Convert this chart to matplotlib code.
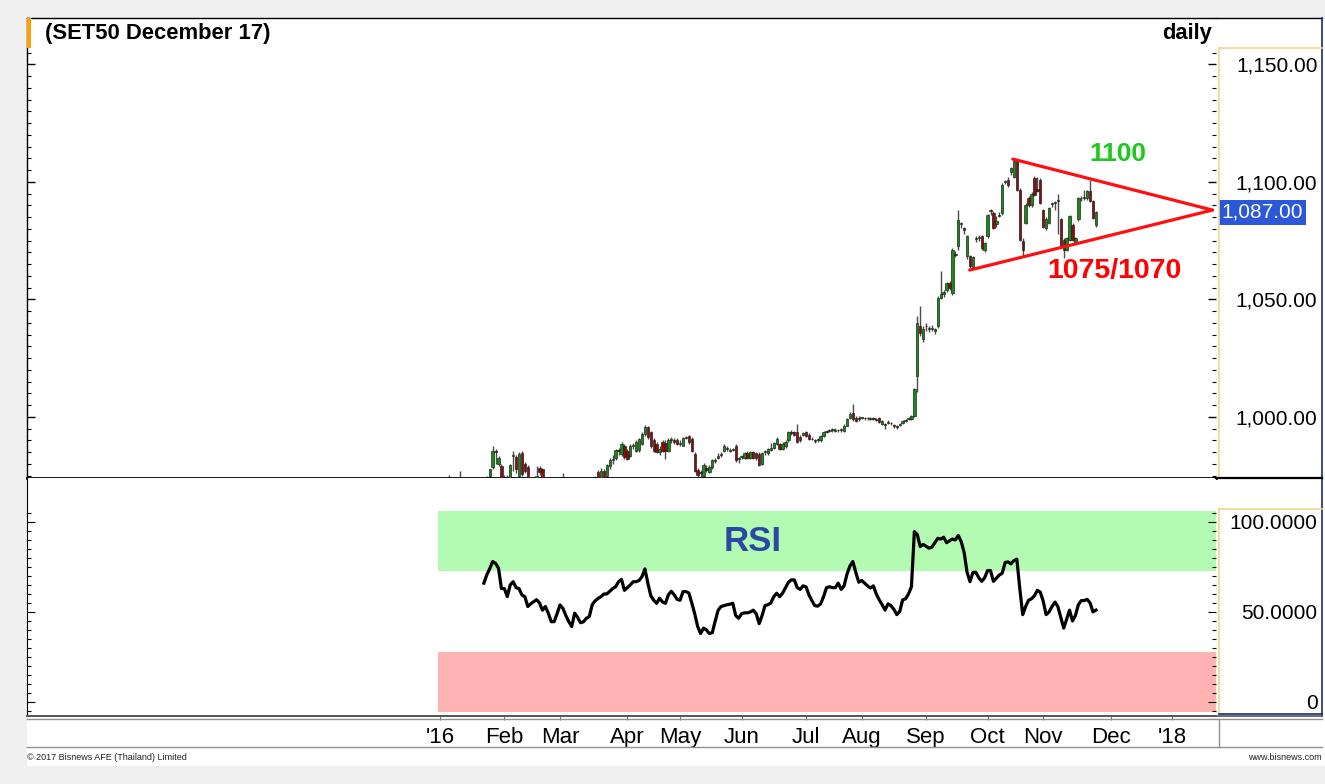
import matplotlib
matplotlib.use('Agg')
import matplotlib.pyplot as plt
import numpy as np
from matplotlib.ticker import MultipleLocator, FixedLocator, FuncFormatter
from matplotlib.lines import Line2D
from matplotlib.patches import Rectangle

plt.rcParams['font.family'] = ['Liberation Sans', 'DejaVu Sans']

# daily candles (trading-day index 0 = first session of the year)
opens = [
    968, 966, 969, 971, 972, 968, 970, 972, 973, 967,
    964, 966, 968, 965, 967, 970, 972, 974.7, 978.7, 985.5,
    980.1, 979.1, 972, 973, 972, 983.4, 982.9, 975.1, 984.7, 980.1,
    978.7, 972, 970, 971, 978.3, 978, 972, 968, 965, 962,
    964, 968, 970, 969, 964, 960, 958, 965, 962, 959,
    958, 961, 964, 970, 976.6, 973, 977, 975, 979, 981.8,
    982.5, 986, 984.3, 987.8, 985.7, 983.6, 987.8, 985.7, 986, 988.6,
    992.8, 995.6, 993.5, 990, 988.6, 985, 989.3, 989, 985.7, 990,
    990, 990, 988.5, 987.8, 991, 991.8, 990.7, 984.3, 977.5, 976.5,
    974.7, 978.5, 976.6, 978.7, 981.5, 982.5, 983.8, 985.7, 986.4, 986,
    986, 987.8, 982, 983, 982.5, 984.5, 982.5, 985, 984.5, 984.3,
    980, 985, 984.5, 986, 987, 988.6, 988.6, 986.4, 987.5, 990,
    993.5, 993.5, 993.5, 991.5, 992.5, 993.5, 992.5, 990.5, 990, 990,
    990, 992, 993.5, 994, 994.5, 994, 994.5, 994.5, 994.2, 996.3,
    999.7, 1001.5, 999.7, 999, 999.6, 999.5, 999.4, 999.3, 999.4, 999.2,
    999.4, 997, 997, 997.5, 997.5, 996.6, 996, 996.5, 997.5, 998.3,
    999, 999, 1000.5, 1017.5, 1038.7, 1033, 1038.5, 1037.6, 1037.5, 1036.5,
    1038.7, 1050.7, 1052.5, 1054, 1057, 1052.8, 1069.5, 1072.6, 1082, 1080.5,
    1068.3, 1068.3, 1064, 1075.5, 1076, 1076.8, 1071, 1076.8, 1087.5, 1086.9,
    1082, 1085.5, 1086.9, 1100, 1101, 1104, 1102, 1109, 1096.6, 1075,
    1082.6, 1093, 1090, 1101.6, 1097, 1100.8, 1088, 1080.5, 1082.6, 1090.5,
    1091, 1091.8, 1084, 1075.4, 1071, 1075.4, 1081.8, 1074, 1084, 1093,
    1093, 1093, 1096, 1091.8, 1081.8,
]
highs = [
    971, 970, 973, 975.5, 974, 972, 974, 977, 974, 970,
    968, 970, 971, 969, 972, 974, 975, 978, 987.8, 986.5,
    983.5, 980, 975.5, 975.5, 980, 985.5, 984, 985, 985.5, 981,
    979.5, 974, 973, 979, 979, 978.5, 973, 971, 968, 966,
    970, 973, 976.3, 971, 966, 963, 966, 967, 964, 962,
    963, 966, 972, 975, 977.5, 978.5, 978, 980, 982.5, 984,
    986.5, 987, 989.3, 988.5, 986.5, 988.5, 989, 990, 991, 993.5,
    996.8, 996, 994, 991, 989.5, 987.5, 990, 990, 991, 991.5,
    991, 991, 990, 991.5, 992, 992.5, 991.5, 985, 978.5, 977.5,
    980.5, 979.5, 979.5, 982, 982.5, 984.5, 985, 988.5, 987.5, 987,
    987, 988.3, 983, 984, 985, 985.5, 985.5, 985.5, 985, 985,
    985, 986, 987, 989, 989.5, 991.5, 989, 989.5, 990, 994,
    994.5, 994, 997, 992.5, 993.5, 994, 993, 991.5, 990.5, 991,
    992.5, 994, 994.5, 995, 995.5, 995.5, 995, 995.2, 997, 999.5,
    1002, 1005.5, 1000.5, 1000.3, 1000.2, 1000, 999.9, 999.8, 999.9, 999.6,
    999.8, 998.8, 997.5, 998.6, 998, 997, 996.5, 997.5, 998.8, 999,
    999.8, 1001, 1012.5, 1043, 1047, 1038.5, 1040, 1038.5, 1039, 1038,
    1051.5, 1062, 1054, 1057.5, 1058, 1072, 1070.5, 1088, 1083, 1081,
    1077.5, 1069, 1068.5, 1077, 1077.5, 1077.5, 1074.5, 1086.5, 1088.5, 1087.5,
    1085.5, 1087, 1099.5, 1101, 1102, 1106.5, 1109.7, 1109.5, 1097.5, 1076,
    1091, 1094, 1095.5, 1102.5, 1102, 1101.5, 1088.5, 1085, 1089.5, 1091.5,
    1092, 1095, 1084.5, 1076, 1076.5, 1086, 1082.5, 1076.5, 1093.5, 1094,
    1096.6, 1096.5, 1100.8, 1092.5, 1087.5,
]
lows = [
    964, 962, 966, 968, 967, 965, 967, 969, 966, 962,
    961, 963, 964, 962, 965, 968, 969, 972, 978, 980,
    979, 970, 969, 970, 971, 977, 976, 974, 975, 976,
    970, 968, 967, 970, 975.5, 970, 966, 963, 960, 959,
    962, 966, 968, 962, 958, 956, 957, 960, 957, 955,
    957, 960, 963, 968, 970, 971, 972, 974, 978, 980,
    981.5, 984, 983.5, 982, 981.5, 983, 986.5, 985, 985, 988,
    992, 990.5, 987, 985, 984.5, 984, 985, 982.2, 985, 989,
    988.5, 988, 987.5, 987.5, 990.5, 988.5, 985, 976.5, 974, 974.5,
    973, 976.5, 976, 978, 980.5, 982, 983, 985, 985.5, 985,
    985.5, 981, 980.5, 982, 982, 982, 982, 982, 981.5, 979,
    979.5, 984, 984, 985.5, 986.5, 988, 986, 986, 987, 989.5,
    992.5, 992, 989, 989.5, 992, 991.5, 990, 990, 988.8, 989.5,
    989.5, 991.5, 993, 993.5, 993.5, 993.5, 993.5, 993.8, 993.8, 996,
    999.2, 998.5, 998, 998.5, 999, 998.8, 998.7, 998.8, 998.9, 998.2,
    997.6, 996.5, 995, 997, 996.8, 995.5, 995, 996, 997.2, 997.8,
    998.6, 998.6, 1000, 1010.6, 1034.5, 1032, 1036.5, 1036, 1036.5, 1035.5,
    1038, 1050, 1051, 1053, 1054, 1052, 1068, 1071, 1080.5, 1078,
    1067, 1063.5, 1063, 1074.5, 1075, 1071, 1070, 1076, 1086, 1080,
    1081, 1085, 1086, 1099, 1098, 1103, 1101.5, 1096, 1075, 1068.6,
    1082, 1089.5, 1089.5, 1094, 1095.5, 1090.5, 1080.5, 1079.5, 1082, 1089.5,
    1088, 1078, 1072, 1067.8, 1070.5, 1075, 1075, 1073.5, 1083.5, 1092,
    1092.5, 1092.5, 1091.5, 1084, 1081,
]
closes = [
    966, 969, 971, 972, 968, 970, 972, 973, 967, 964,
    966, 968, 965, 967, 970, 972, 974, 977.7, 985.7, 985.2,
    982.6, 972, 973, 972, 979.4, 983.6, 977.7, 984.3, 975.9, 977.2,
    972, 970, 971, 975, 976.8, 972, 968, 965, 962, 964,
    968, 970, 969, 964, 960, 958, 965, 962, 959, 958,
    961, 964, 970, 973, 973, 977, 974, 979.4, 981.8, 982.2,
    986, 985.5, 988.6, 982.9, 982.2, 987.8, 988.2, 989.3, 990.5, 992.8,
    995.9, 991.4, 987.8, 985.7, 985.2, 986.5, 985.7, 985.7, 990, 990.5,
    989.5, 988.5, 988.8, 991, 991.4, 989.3, 985.7, 977.2, 975.5, 976,
    979.7, 977.5, 978.7, 981.5, 981.2, 983.6, 984.3, 987.8, 986.6, 985.7,
    986.4, 981.5, 982.2, 983.2, 984.5, 982.5, 985, 982.5, 982.5, 979.4,
    984.5, 985.4, 986.4, 987, 989, 990.7, 986.4, 988.6, 989.5, 993.5,
    993.3, 992.5, 989.5, 990, 993, 992, 990.5, 990.7, 989.6, 990.5,
    992, 993.5, 994, 994.2, 994.6, 994.5, 994.3, 994.8, 996.3, 999,
    1001.4, 999, 998.4, 999.6, 999.6, 999.4, 999.4, 999.5, 999.2, 998.6,
    998, 998.4, 996.5, 998, 997.3, 996.3, 995.6, 997, 998.4, 998.4,
    999.4, 1000.5, 1012, 1040, 1035.9, 1037.3, 1038.7, 1037.6, 1038, 1037.5,
    1050.7, 1052.5, 1053, 1057, 1055, 1071.2, 1069, 1083.9, 1082.3, 1079.5,
    1077, 1064.1, 1068, 1076, 1076.3, 1071.9, 1074, 1086, 1088, 1080.5,
    1083.5, 1086, 1098.7, 1100.2, 1098.7, 1106, 1109, 1096.6, 1075.4, 1071,
    1090.2, 1090, 1095, 1094.5, 1096, 1091, 1081, 1084, 1089, 1091,
    1091.3, 1092, 1072.6, 1071.2, 1076, 1085.3, 1075.4, 1076, 1093, 1093.2,
    1093.4, 1096, 1091.8, 1084.6, 1087,
]

# RSI, first value on day 15
rsi_start = 15
rsi = [
    66, 70.6, 74, 78, 77, 74.3, 63, 63, 58.5, 65,
    66.8, 63.5, 63, 59.4, 58.5, 53, 54.5, 55.7, 56.8, 55,
    51, 53, 49.3, 44.6, 44.6, 49, 53.9, 52, 48, 44.6,
    41.9, 49.3, 47, 44, 44.5, 46.5, 47.4, 54, 56.2, 57.5,
    58.5, 60, 60, 61.5, 63, 64, 66.8, 68.1, 62, 63.5,
    65, 66.8, 66.8, 67.5, 69.6, 73.9, 66, 59, 56.5, 54.8,
    57.6, 55.5, 54.8, 59.5, 61.5, 59.5, 57, 56.5, 61.3, 61.3,
    60.5, 55, 49, 42, 38, 41, 40, 38, 38.5, 45,
    51, 53, 53.5, 54, 54.3, 54.8, 48, 46.5, 49, 49.5,
    49.5, 50, 51, 49, 43.5, 48, 53.5, 54, 55, 58.5,
    60.4, 58.5, 60.4, 63.5, 66.5, 67.8, 67.8, 63.5, 62.5, 64.5,
    64, 59.5, 56.3, 53.5, 53.2, 54.5, 58.5, 63.5, 64, 63.5,
    63.5, 66, 62.5, 64.5, 71, 75.5, 78, 72, 66.5, 67.5,
    66, 64.5, 63.3, 64.5, 60, 56.7, 54, 51, 54.5, 53.5,
    51.5, 48.5, 50.2, 56.7, 57.3, 60, 64, 94.6, 93, 86.3,
    87.5, 86.5, 85.4, 86, 88.5, 90.9, 90.5, 91.5, 88.5, 89.5,
    90.5, 90, 92.5, 89, 83, 72, 66.8, 72, 72, 69,
    67, 69, 73, 73, 67, 68.7, 70.5, 71.5, 77.5, 77.8,
    76.7, 78.5, 79.3, 63, 48.5, 53, 56.5, 57.3, 59, 62,
    61, 56, 48.5, 50, 53, 55.5, 53, 47, 41, 46,
    51, 45, 48, 54, 56.3, 56.3, 57, 55, 50, 51,
]

month_pos = [0, 22, 41, 64, 82, 103, 125, 144, 166, 187, 206, 229, 250]
month_labels = ["'16", 'Feb', 'Mar', 'Apr', 'May', 'Jun', 'Jul', 'Aug',
                'Sep', 'Oct', 'Nov', 'Dec', "'18"]

# triangle drawn on the chart (day, price)
tri_top = (195.6, 1109.7)
tri_low = (180.9, 1062.5)
tri_apex = (263.8, 1088.0)

# RSI zones
zone_x = (-0.7, 265)
zone_hi = (72.8, 106.1)
zone_lo = (-5.6, 27.8)

assert len(opens) == len(highs) == len(lows) == len(closes)

opens, highs, lows, closes = map(np.array, (opens, highs, lows, closes))
days = np.arange(len(closes))
rsi_days = np.arange(rsi_start, rsi_start + len(rsi))

W, H = 1325, 784


def fx(px):
    return px / W


def fy(py):
    return 1 - py / H


fig = plt.figure(figsize=(13.25, 7.84), dpi=100, facecolor='#f0f0f0')
fig.add_artist(Rectangle((fx(27), fy(766)), fx(1325) - fx(27), fy(18) - fy(766),
                         transform=fig.transFigure, facecolor='white',
                         edgecolor='none', zorder=-5))

ax = fig.add_axes([fx(27), fy(478), fx(1216) - fx(27), fy(18) - fy(478)])
ax2 = fig.add_axes([fx(27), fy(716), fx(1216) - fx(27), fy(478) - fy(716)], sharex=ax)

# candles
up = closes >= opens
ax.vlines(days, lows, highs, color='#4a4a4a', linewidth=1.0, zorder=2)
ax.bar(days, np.maximum(np.abs(closes - opens), 0.35), bottom=np.minimum(opens, closes),
       width=0.8, color=np.where(up, '#168c16', '#8c0c0c'),
       edgecolor='#1a1a1a', linewidth=0.45, zorder=3)

# triangle
for p in (tri_top, tri_low):
    ax.plot([p[0], tri_apex[0]], [p[1], tri_apex[1]], color='#ff1010', lw=2.3,
            solid_capstyle='round', zorder=4, clip_on=False)
ax.text(231.5, 1112, '1100', color='#1ec81e', fontsize=19, fontweight='bold',
        ha='center', va='center')
ax.text(230.4, 1062, '1075/1070', color='#ff0000', fontsize=20.5, fontweight='bold',
        ha='center', va='center')

ax.set_xlim(-141, 265)
ax.set_ylim(974.05, 1169.7)
ax.yaxis.set_major_locator(FixedLocator([1000, 1050, 1100, 1150]))
ax.yaxis.set_minor_locator(FixedLocator(np.arange(975, 1156, 5)))
ax.yaxis.set_major_formatter(FuncFormatter(lambda v, p: f'{v:,.2f}'))
ax.tick_params(axis='y', which='both', direction='in', left=True, right=True,
               labelleft=False, labelright=True, labelsize=15, pad=73, colors='black')
ax.tick_params(axis='y', which='major', length=6, width=1)
ax.tick_params(axis='y', which='minor', length=3, width=0.8)
ax.tick_params(axis='x', bottom=False, labelbottom=False)
plt.setp(ax.get_yticklabels(), ha='right')
ax.spines['right'].set_visible(False)
ax.spines['bottom'].set_linewidth(2)
for s in ('top', 'left'):
    ax.spines[s].set_linewidth(1)

# last price tag
ax.text(1.0046, closes[-1], f'{closes[-1]:,.2f}', transform=ax.get_yaxis_transform(),
        color='white', fontsize=15, ha='left', va='center', clip_on=False,
        bbox=dict(boxstyle='square,pad=0.14', fc='#2b57d9', ec='none'))

# RSI panel
ax2.fill_between(zone_x, zone_hi[0], zone_hi[1], color='#b3fbb3', lw=0, zorder=1)
ax2.fill_between(zone_x, zone_lo[0], zone_lo[1], color='#ffb3b3', lw=0, zorder=1)
ax2.plot(rsi_days, rsi, color='black', lw=2.3, zorder=3)
ax2.text(106.8, 89, 'RSI', color='#2b48a3', fontsize=25, fontweight='bold',
         ha='center', va='center', zorder=4)
ax2.set_ylim(-7.8, 124.4)
ax2.yaxis.set_major_locator(FixedLocator([0, 50, 100]))
ax2.yaxis.set_minor_locator(FixedLocator(np.arange(-5, 106, 5)))
ax2.yaxis.set_major_formatter(FuncFormatter(lambda v, p: '0' if v == 0 else f'{v:.4f}'))
ax2.tick_params(axis='y', which='both', direction='in', left=True, right=True,
                labelleft=False, labelright=True, labelsize=15, pad=73)
ax2.tick_params(axis='y', which='major', length=6)
ax2.tick_params(axis='y', which='minor', length=3, width=0.8)
plt.setp(ax2.get_yticklabels(), ha='right')
ax2.set_xticks(month_pos)
ax2.set_xticklabels(month_labels)
ax2.tick_params(axis='x', direction='out', length=3, color='#707070', labelsize=16, pad=5)
ax2.spines['right'].set_visible(False)
ax2.spines['top'].set_visible(False)
ax2.spines['bottom'].set_color('#555555')
ax2.spines['bottom'].set_linewidth(1.2)


def fline(x0, y0, x1, y1, color, lw=1.0):
    fig.add_artist(Line2D([fx(x0), fx(x1)], [fy(y0), fy(y1)], color=color, lw=lw,
                          transform=fig.transFigure))


# frame and label boxes
fline(1216, 18, 1322, 18, 'black')
fline(1322, 18, 1322, 716, '#1a2a7a', 1.2)
fline(1219, 48, 1322, 48, '#f0d890', 1.2)
fline(1219, 48, 1219, 478, '#f0d890', 1.2)
fline(1216, 478, 1322, 478, 'black', 1.6)
fline(1219, 509, 1322, 509, '#f0d890', 1.2)
fline(1219, 509, 1219, 714, '#f0d890', 1.2)
fline(1219, 714, 1322, 714, '#1a2a7a', 1.2)
fline(27, 716, 1322, 716, '#555555', 1.2)
fline(27, 719, 1322, 719, '#909090', 1.0)
fline(27, 747, 1322, 747, '#909090', 1.0)
fline(1219, 719, 1219, 747, '#909090', 1.0)

# header
fig.add_artist(Rectangle((fx(27), fy(48)), fx(31) - fx(27), fy(18) - fy(48),
                         transform=fig.transFigure, facecolor='#ffa000', edgecolor='none'))
fig.text(fx(45), fy(34), '(SET50 December 17)', fontsize=15.8, fontweight='bold',
         ha='left', va='center')
fig.text(fx(1212), fy(34), 'daily', fontsize=15.8, fontweight='bold',
         ha='right', va='center')

# footer
fig.text(fx(27), fy(758), '\u00a9 2017 Bisnews AFE (Thailand) Limited', fontsize=6.5,
         ha='left', va='center', color='#222222')
fig.text(fx(1322), fy(758), 'www.bisnews.com', fontsize=6.5, ha='right', va='center',
         color='#222222')

fig.savefig('out.png', dpi=100, facecolor=fig.get_facecolor())
